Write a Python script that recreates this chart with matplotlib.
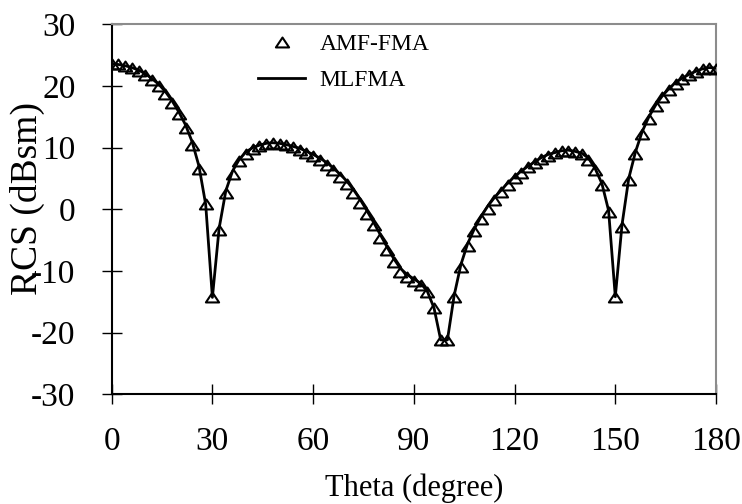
import matplotlib
matplotlib.use('Agg')
import matplotlib.pyplot as plt
from matplotlib.lines import Line2D
from matplotlib.path import Path

plt.rcParams['font.family'] = ['Liberation Serif', 'DejaVu Serif']
plt.rcParams['axes.unicode_minus'] = False

theta = list(range(0, 181, 2))

amf_fma = [23.6, 23.5, 23.2, 22.9, 22.4, 21.8, 21.0, 20.0, 18.7, 17.2,
           15.4, 13.2, 10.4, 6.6, 0.8, -14.3, -3.3, 2.7, 5.8, 7.8,
           9.0, 9.8, 10.3, 10.6, 10.7, 10.6, 10.4, 10.1, 9.7, 9.2,
           8.6, 8.0, 7.2, 6.3, 5.3, 4.1, 2.7, 1.1, -0.7, -2.6,
           -4.6, -6.6, -8.5, -10.1, -11.0, -11.6, -12.3, -13.5, -16.1, -21.2,
           -21.2, -14.2, -9.4, -6.0, -3.6, -1.6, 0.1, 1.5, 2.8, 4.0,
           5.0, 5.9, 6.8, 7.5, 8.2, 8.7, 9.1, 9.4, 9.5, 9.3,
           8.9, 8.0, 6.3, 3.9, -0.4, -14.2, -2.8, 4.7, 9.0, 12.3,
           14.7, 16.7, 18.2, 19.4, 20.4, 21.2, 21.8, 22.3, 22.7, 22.9,
           22.8]

mlfma = [23.6, 23.5, 23.3, 23.0, 22.6, 22.0, 21.2, 20.3, 19.1, 17.6,
         15.8, 13.7, 10.9, 7.0, 0.8, -14.3, -3.1, 3.0, 6.2, 8.1,
         9.3, 10.0, 10.4, 10.7, 10.8, 10.7, 10.5, 10.2, 9.9, 9.4,
         8.9, 8.3, 7.6, 6.7, 5.7, 4.6, 3.2, 1.6, -0.2, -2.1,
         -4.1, -6.1, -8.0, -9.6, -10.6, -11.3, -12.0, -13.3, -16.0, -21.2,
         -21.2, -14.0, -9.0, -5.6, -3.2, -1.2, 0.5, 1.9, 3.1, 4.3,
         5.3, 6.2, 7.0, 7.7, 8.4, 8.9, 9.2, 9.5, 9.6, 9.4,
         9.1, 8.3, 6.6, 4.2, -0.2, -14.2, -2.5, 5.0, 9.3, 12.6,
         15.0, 16.9, 18.4, 19.6, 20.6, 21.3, 21.9, 22.4, 22.8, 23.0,
         22.9]

xticks = [0, 30, 60, 90, 120, 150, 180]
yticks = [-30, -20, -10, 0, 10, 20, 30]

tri = Path([(-1, -0.75), (1, -0.75), (0, 0.75), (-1, -0.75)], closed=True)

fig = plt.figure(figsize=(7.42, 5.04), dpi=100)
ax = fig.add_axes([0.1505, 0.218, 0.8145, 0.7335])

ax.plot(theta, mlfma, color='black', lw=2, zorder=3)
ax.plot(theta, amf_fma, ls='none', marker=tri, ms=9.5, mfc='none',
        mec='black', mew=1.5, zorder=4)

ax.set_xlim(0, 180)
ax.set_ylim(-30, 30)
ax.set_xticks(xticks)
ax.set_yticks(yticks)
ax.tick_params(direction='inout', length=14, width=1, labelsize=24,
               colors='black')
ax.tick_params(axis='y', pad=19)
ax.tick_params(axis='x', pad=16)

for s in ['left', 'bottom']:
    ax.spines[s].set_color('black')
    ax.spines[s].set_linewidth(1.5)
for s in ['top', 'right']:
    ax.spines[s].set_color('#8c8c8c')
    ax.spines[s].set_linewidth(1.5)

ax.set_xlabel('Theta (degree)', fontsize=22)
ax.set_ylabel('RCS (dBsm)', fontsize=27)
ax.xaxis.set_label_coords(0.5, -0.215)
ax.yaxis.set_label_coords(-0.11, 0.53)

handles = [Line2D([], [], ls='none', marker=tri, ms=9.5, mfc='none',
                  mec='black', mew=1.5),
           Line2D([], [], color='black', lw=2)]
ax.legend(handles, ['AMF-FMA', 'MLFMA'], loc='upper left',
          bbox_to_anchor=(0.242, 0.975), frameon=False, fontsize=17,
          handlelength=2, handletextpad=0.6, labelspacing=0.6,
          borderpad=0, borderaxespad=0)

fig.savefig('out.png', dpi=100)
